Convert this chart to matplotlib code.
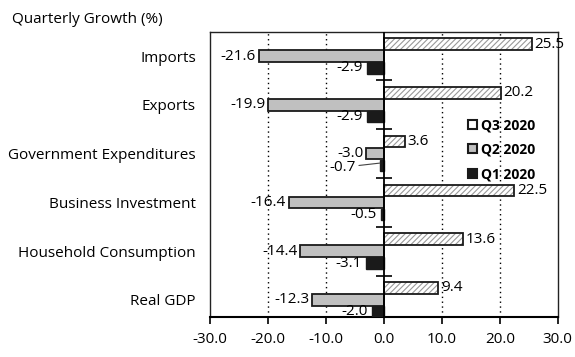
import matplotlib.pyplot as plt
import numpy as np

plt.rcParams['font.family'] = ['Open Sans', 'DejaVu Sans']
plt.rcParams['hatch.linewidth'] = 0.8

categories = ['Real GDP', 'Household Consumption', 'Business Investment',
              'Government Expenditures', 'Exports', 'Imports']
q3_2020 = [9.4, 13.6, 22.5, 3.6, 20.2, 25.5]
q2_2020 = [-12.3, -14.4, -16.4, -3.0, -19.9, -21.6]
q1_2020 = [-2.0, -3.1, -0.5, -0.7, -2.9, -2.9]
xticks = [-30, -20, -10, 0, 10, 20, 30]

fig = plt.figure(figsize=(5.75, 3.57), dpi=100)
ax = fig.add_axes([0.365, 0.112, 0.605, 0.798])

y = np.arange(len(categories))
off = 0.245
h = 0.235

# grid
for gx in [-20, -10, 10, 20]:
    ax.axvline(gx, color='black', lw=1.0, ls=(0, (1, 2.5)), zorder=0)

# Q3: hatched
ax.barh(y + off, q3_2020, height=h, color='white', edgecolor='#999999',
        hatch='//////', lw=0, zorder=2)
ax.barh(y + off, q3_2020, height=h, fill=False, edgecolor='#1a1a1a', lw=1.3, zorder=3)
ax.barh(y, q2_2020, height=h, color='#c0c0c0', edgecolor='#1a1a1a', lw=1.3, zorder=3)
ax.barh(y - off, q1_2020, height=h, color='#1a1a1a', edgecolor='#1a1a1a', lw=1.0, zorder=3)

# zero axis with small ticks between groups
ax.axvline(0, color='black', lw=1.3, zorder=4)
ax.plot(np.zeros(len(categories) - 1), y[:-1] + 0.5, ls='none', marker='_',
        ms=12, mew=1.2, color='black', zorder=4)

fs = 11
for i in range(len(categories)):
    ax.annotate(f'{q3_2020[i]:.1f}', (q3_2020[i], y[i] + off), xytext=(2, 0),
                textcoords='offset points', ha='left', va='center', fontsize=fs)
    ax.annotate(f'{q2_2020[i]:.1f}', (q2_2020[i], y[i]), xytext=(-2, 0),
                textcoords='offset points', ha='right', va='center', fontsize=fs)
    if categories[i] == 'Government Expenditures':
        ax.annotate(f'{q1_2020[i]:.1f}', (q1_2020[i], y[i] - off + 0.05), xytext=(-17, -3),
                    textcoords='offset points', ha='right', va='center', fontsize=fs,
                    arrowprops=dict(arrowstyle='-', color='#444444', lw=0.8,
                                    shrinkA=0, shrinkB=0))
    else:
        ax.annotate(f'{q1_2020[i]:.1f}', (q1_2020[i], y[i] - off), xytext=(-3, 0),
                    textcoords='offset points', ha='right', va='center', fontsize=fs)

ax.set_xlim(-30, 30)
ax.set_ylim(-0.35, 5.49)
ax.set_xticks(xticks)
ax.set_xticklabels([f'{t:.1f}' for t in xticks], fontsize=fs)
ax.set_yticks(y)
ax.set_yticklabels(categories, fontsize=fs)
ax.tick_params(axis='y', length=0, pad=10)
ax.tick_params(axis='x', length=5, width=1.2, direction='out', pad=6)
for side in ['left', 'top', 'right']:
    ax.spines[side].set_linewidth(1.0)
    ax.spines[side].set_color('#222222')
ax.spines['bottom'].set_linewidth(1.5)

handles = [
    plt.Rectangle((0, 0), 1, 1, facecolor='white', edgecolor='#1a1a1a', lw=1.5),
    plt.Rectangle((0, 0), 1, 1, facecolor='#c0c0c0', edgecolor='#1a1a1a', lw=1.5),
    plt.Rectangle((0, 0), 1, 1, facecolor='#1a1a1a', edgecolor='#1a1a1a', lw=1.5),
]
leg = ax.legend(handles, ['Q3 2020', 'Q2 2020', 'Q1 2020'], loc='upper left',
                bbox_to_anchor=(0.705, 0.742), frameon=False, handlelength=0.65,
                handleheight=0.65, handletextpad=0.3, labelspacing=0.76,
                prop={'weight': 'bold', 'size': 10})

fig.text(0.02, 0.945, 'Quarterly Growth (%)', fontsize=fs, ha='left', va='center')

fig.savefig('out.png', dpi=100)
